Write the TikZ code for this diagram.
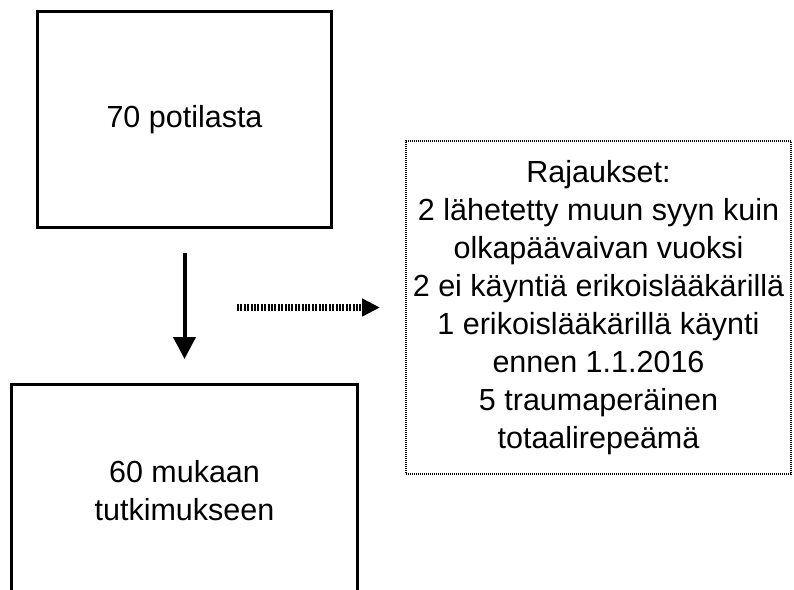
\documentclass[tikz,border=0pt]{standalone}
\usepackage{fontspec}
\setmainfont{Liberation Sans}
\usetikzlibrary{positioning,arrows.meta}

\begin{document}
\begin{tikzpicture}[
  x=1pt, y=-1pt,
  box/.style={rectangle, draw=black, line width=3pt, align=center,
              font=\fontsize{30.5}{37.5}\selectfont},
  dotbox/.style={rectangle, draw=black, line width=2pt,
                 dash pattern=on 1pt off 1pt, align=center,
                 minimum width=385pt, minimum height=333pt,
                 font=\fontsize{30.5}{38}\selectfont},
  arr/.style={-{Triangle[width=22pt,length=22pt]}, line width=4pt},
  dotarr/.style={-{Triangle[width=17pt,length=18pt]}, line width=7pt,
                 dash pattern=on 2pt off 1.4pt}
]
\useasboundingbox (0,0) rectangle (794,589);
\node[box, minimum width=294pt, minimum height=216pt] (all) at (184.5,119.5)
  {70 potilasta};
\node[box, minimum width=346pt, minimum height=212pt] (incl) at (184.5,490.5)
  {60 mukaan\\ tutkimukseen};
\node[dotbox] (excl) at (598.5,307.5)
  {Rajaukset:\\ 2 lähetetty muun syyn kuin\\ olkapäävaivan vuoksi\\
   2 ei käyntiä erikoislääkärillä\\ 1 erikoislääkärillä käynti\\
   ennen 1.1.2016\\ 5 traumaperäinen\\ totaalirepeämä};
\coordinate (drop) at (237,307.5);

\draw[arr, shorten <=24pt, shorten >=24pt] (all) -- (incl);
\draw[dotarr, shorten >=25pt] (drop) -- (excl.west);
\end{tikzpicture}
\end{document}
